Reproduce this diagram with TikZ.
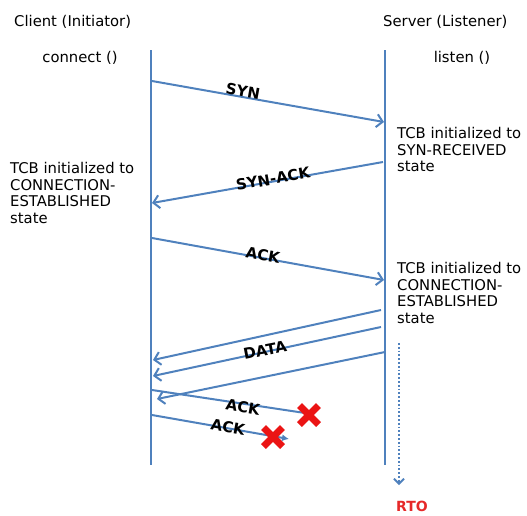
\documentclass[tikz,border=0pt]{standalone}
\usepackage{fontspec}
\setmainfont{DejaVu Sans}
\usetikzlibrary{arrows.meta}
\definecolor{lineblue}{RGB}{79,129,189}
\definecolor{lossred}{RGB}{235,20,20}
\definecolor{rtored}{RGB}{230,40,40}
\tikzset{
  life/.style={draw=lineblue, line width=2.8pt},
  msg/.style={draw=lineblue, line width=2pt, -{Straight Barb[length=6pt,width=13pt,line width=2pt]}},
  lost/.style={draw=lineblue, line width=2pt},
  txt/.style={font=\fontsize{14.8}{16.7}\selectfont, inner sep=0pt, align=left},
  msglabel/.style={font=\fontsize{15}{16}\selectfont\bfseries, inner sep=0pt},
  xmark/.style={draw=lossred, line width=7pt},
}
\begin{document}
\begin{tikzpicture}[x=1pt, y=-1pt]
\useasboundingbox (0,0) rectangle (527,515);

% headings
\node[txt, anchor=west] (client) at (14,22) {Client (Initiator)};
\node[txt, anchor=west] (server) at (383,22) {Server (Listener)};
\node[txt] (connect) at (80,58) {connect ()};
\node[txt] (listen) at (462,58) {listen ()};

% lifelines
\coordinate (ctop) at (151,50);
\coordinate (cbot) at (151,465);
\coordinate (stop) at (385,50);
\coordinate (sbot) at (385,465);
\draw[life] (ctop) -- (cbot);
\draw[life] (stop) -- (sbot);

% handshake
\coordinate (syn0) at (152,81);
\coordinate (syn1) at (384,122);
\draw[msg] (syn0) -- (syn1);
\node[msglabel, rotate=-10] (synl) at (243,91) {SYN};

\coordinate (sa0) at (383,162);
\coordinate (sa1) at (152,203);
\draw[msg] (sa0) -- (sa1);
\node[msglabel, rotate=10] (sal) at (273,179) {SYN-ACK};

\coordinate (ack0) at (152,238);
\coordinate (ack1) at (384,280);
\draw[msg] (ack0) -- (ack1);
\node[msglabel, rotate=-10] (ackl) at (263,255) {ACK};

% state notes
\node[txt, anchor=north west] (srvsyn) at (397,127) {TCB initialized to\\SYN-RECEIVED\\state};
\node[txt, anchor=north west] (cliest) at (10,162) {TCB initialized to\\CONNECTION-\\ESTABLISHED\\state};
\node[txt, anchor=north west] (srvest) at (397,262) {TCB initialized to\\CONNECTION-\\ESTABLISHED\\state};

% data segments
\coordinate (d1a) at (381,310);
\coordinate (d1b) at (153,360);
\coordinate (d2a) at (381,327);
\coordinate (d2b) at (153,376);
\coordinate (d3a) at (385,352);
\coordinate (d3b) at (157,399);
\draw[msg] (d1a) -- (d1b);
\draw[msg] (d2a) -- (d2b);
\draw[msg] (d3a) -- (d3b);
\node[msglabel, rotate=11] (datal) at (265,350) {DATA};

% lost acknowledgements
\coordinate (la0) at (152,390);
\coordinate (la1) at (305,413);
\coordinate (lb0) at (152,415);
\coordinate (lb1) at (289,439);
\draw[lost] (la0) -- (la1);
\draw[lost, -{Latex[length=7pt,width=7pt]}] (lb0) -- (lb1);
\node[msglabel, rotate=-10] (lal) at (243,407) {ACK};
\node[msglabel, rotate=-10] (lbl) at (228,427) {ACK};

\coordinate (xa) at (309,415);
\coordinate (xb) at (273,437);
\draw[xmark] ([shift={(-9.5,-9.5)}]xa) -- ([shift={(9.5,9.5)}]xa);
\draw[xmark] ([shift={(-9.5,9.5)}]xa) -- ([shift={(9.5,-9.5)}]xa);
\draw[xmark] ([shift={(-9.5,-9.5)}]xb) -- ([shift={(9.5,9.5)}]xb);
\draw[xmark] ([shift={(-9.5,9.5)}]xb) -- ([shift={(9.5,-9.5)}]xb);

% retransmission timeout
\coordinate (rto0) at (399,343);
\coordinate (rto1) at (399,485);
\draw[lineblue, line width=1.8pt, dotted, -{Straight Barb[length=5pt,width=10pt,line width=1.8pt]}] (rto0) -- (rto1);
\node[font=\fontsize{14}{16}\selectfont\bfseries, text=rtored, inner sep=0pt, anchor=base] (rto) at (412,511) {RTO};
\end{tikzpicture}
\end{document}
